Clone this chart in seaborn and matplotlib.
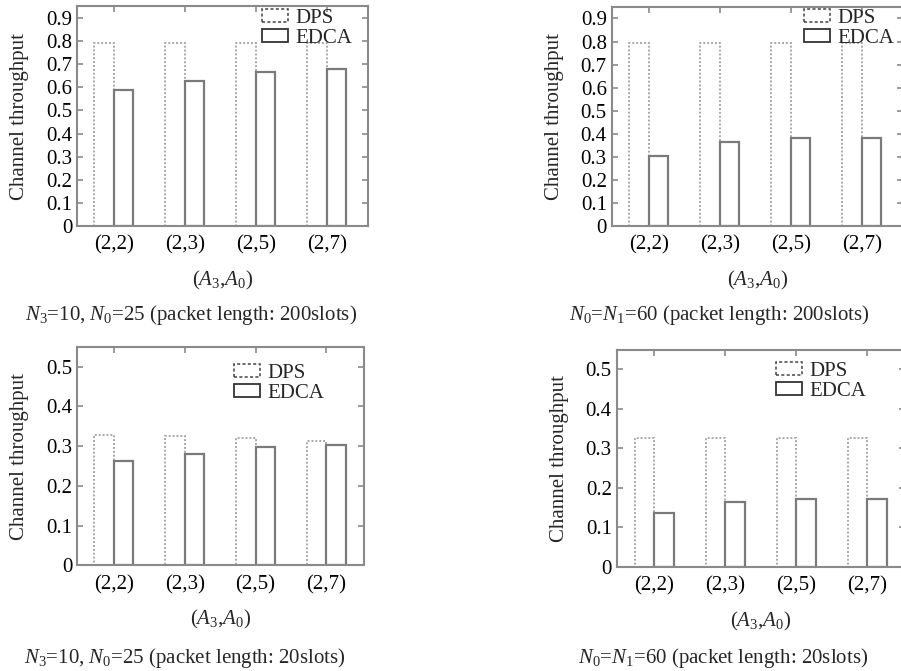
import matplotlib
matplotlib.use("Agg")
import matplotlib.pyplot as plt
from matplotlib.patches import Patch
from matplotlib.ticker import FixedLocator, FuncFormatter
import seaborn as sns
import pandas as pd

# ---- data -------------------------------------------------------------
pairs = ["(2,2)", "(2,3)", "(2,5)", "(2,7)"]
schemes = ["DPS", "EDCA"]

dps_n3_200 = [0.792, 0.792, 0.790, 0.790]
edca_n3_200 = [0.589, 0.628, 0.667, 0.678]

dps_n0_200 = [0.792, 0.792, 0.792, 0.792]
edca_n0_200 = [0.303, 0.365, 0.382, 0.382]

dps_n3_20 = [0.328, 0.325, 0.321, 0.313]
edca_n3_20 = [0.263, 0.280, 0.297, 0.303]

dps_n0_20 = [0.327, 0.327, 0.325, 0.325]
edca_n0_20 = [0.137, 0.163, 0.171, 0.171]

captions = [
    r"$N_3$=10, $N_0$=25 (packet length: 200slots)",
    r"$N_0$=$N_1$=60 (packet length: 200slots)",
    r"$N_3$=10, $N_0$=25 (packet length: 20slots)",
    r"$N_0$=$N_1$=60 (packet length: 20slots)",
]

# ---- style ------------------------------------------------------------
sns.set_style("ticks")
plt.rcParams["font.family"] = ["Liberation Serif", "DejaVu Serif"]
plt.rcParams["mathtext.fontset"] = "custom"
plt.rcParams["mathtext.rm"] = "Liberation Serif"
plt.rcParams["mathtext.it"] = "Liberation Serif:italic"
FS = 15
plt.rcParams["font.size"] = FS

W, H = 901, 671
fig = plt.figure(figsize=(W / 100, H / 100), dpi=100)
fig.patch.set_facecolor("white")

SPINE = "#8a8a8a"


def px_axes(left, top, right, bottom):
    return [left / W, 1 - bottom / H, (right - left) / W, (bottom - top) / H]


panels = [
    dict(dps=dps_n3_200, edca=edca_n3_200, box=(77, 6, 368, 226),
         xlim=(-0.52, 3.58), ylim=(0, 0.952), yt=[i / 10 for i in range(10)],
         leg=(262, 9), cap=(191, 315)),
    dict(dps=dps_n0_200, edca=edca_n0_200, box=(611.7, 6.5, 903, 226),
         xlim=(-0.525, 3.58), ylim=(0, 0.952), yt=[i / 10 for i in range(10)],
         leg=(804, 9), cap=(719, 315)),
    dict(dps=dps_n3_20, edca=edca_n3_20, box=(77, 347.3, 364, 565.3),
         xlim=(-0.52, 3.53), ylim=(0, 0.549), yt=[i / 10 for i in range(6)],
         leg=(234, 364), cap=(185, 658)),
    dict(dps=dps_n0_20, edca=edca_n0_20, box=(616.7, 350, 905, 566.7),
         xlim=(-0.53, 3.53), ylim=(0, 0.549), yt=[i / 10 for i in range(6)],
         leg=(776, 362), cap=(723, 658)),
]

for p, cap in zip(panels, captions):
    ax = fig.add_axes(px_axes(*p["box"]))
    df = pd.DataFrame({
        "pair": pairs * 2,
        "scheme": ["DPS"] * 4 + ["EDCA"] * 4,
        "throughput": list(p["dps"]) + list(p["edca"]),
    })
    sns.barplot(data=df, x="pair", y="throughput", hue="scheme",
                hue_order=schemes, order=pairs, ax=ax, width=0.55,
                legend=False, errorbar=None)

    # outline-only bars: dotted light grey for DPS, solid grey for EDCA
    for cont, name in zip(ax.containers, schemes):
        for bar in cont:
            bar.set_facecolor("white")
            if name == "DPS":
                bar.set_edgecolor("#a8a8a8")
                bar.set_linestyle((0, (1, 1)))
                bar.set_linewidth(1.4)
            else:
                bar.set_edgecolor("#7a7a7a")
                bar.set_linestyle("-")
                bar.set_linewidth(1.6)

    ax.set_xlim(*p["xlim"])
    ax.set_ylim(*p["ylim"])
    ax.yaxis.set_major_locator(FixedLocator(p["yt"]))
    ax.yaxis.set_major_formatter(FuncFormatter(lambda v, _: f"{v:g}"))

    for s in ax.spines.values():
        s.set_visible(True)
        s.set_color(SPINE)
        s.set_linewidth(1.5)
    ax.tick_params(axis="both", direction="in", length=4, width=1.2,
                   color=SPINE, top=True, right=True, labelsize=FS,
                   labelcolor="black")
    ax.tick_params(axis="y", pad=3.5)
    ax.tick_params(axis="x", pad=7)

    ax.set_ylabel("Channel throughput", labelpad=12, fontsize=FS)
    ax.set_xlabel(r"($A_3$,$A_0$)", labelpad=10, fontsize=FS)

    handles = [
        Patch(facecolor="white", edgecolor="#444444", linestyle=(0, (2, 1.5)),
              linewidth=1.1, label="DPS"),
        Patch(facecolor="white", edgecolor="#333333", linestyle="-",
              linewidth=1.3, label="EDCA"),
    ]
    lx, ly = p["leg"]
    ax.legend(handles=handles, loc="upper left",
              bbox_to_anchor=(lx / W, 1 - ly / H),
              bbox_transform=fig.transFigure, frameon=False,
              borderpad=0, borderaxespad=0, handlelength=1.25,
              handleheight=0.6, handletextpad=0.35, labelspacing=0.05,
              fontsize=FS)

    cx, cy = p["cap"]
    fig.text(cx / W, 1 - cy / H, cap, ha="center", va="center",
             fontsize=FS)

fig.savefig("out.png", dpi=100, facecolor="white")
